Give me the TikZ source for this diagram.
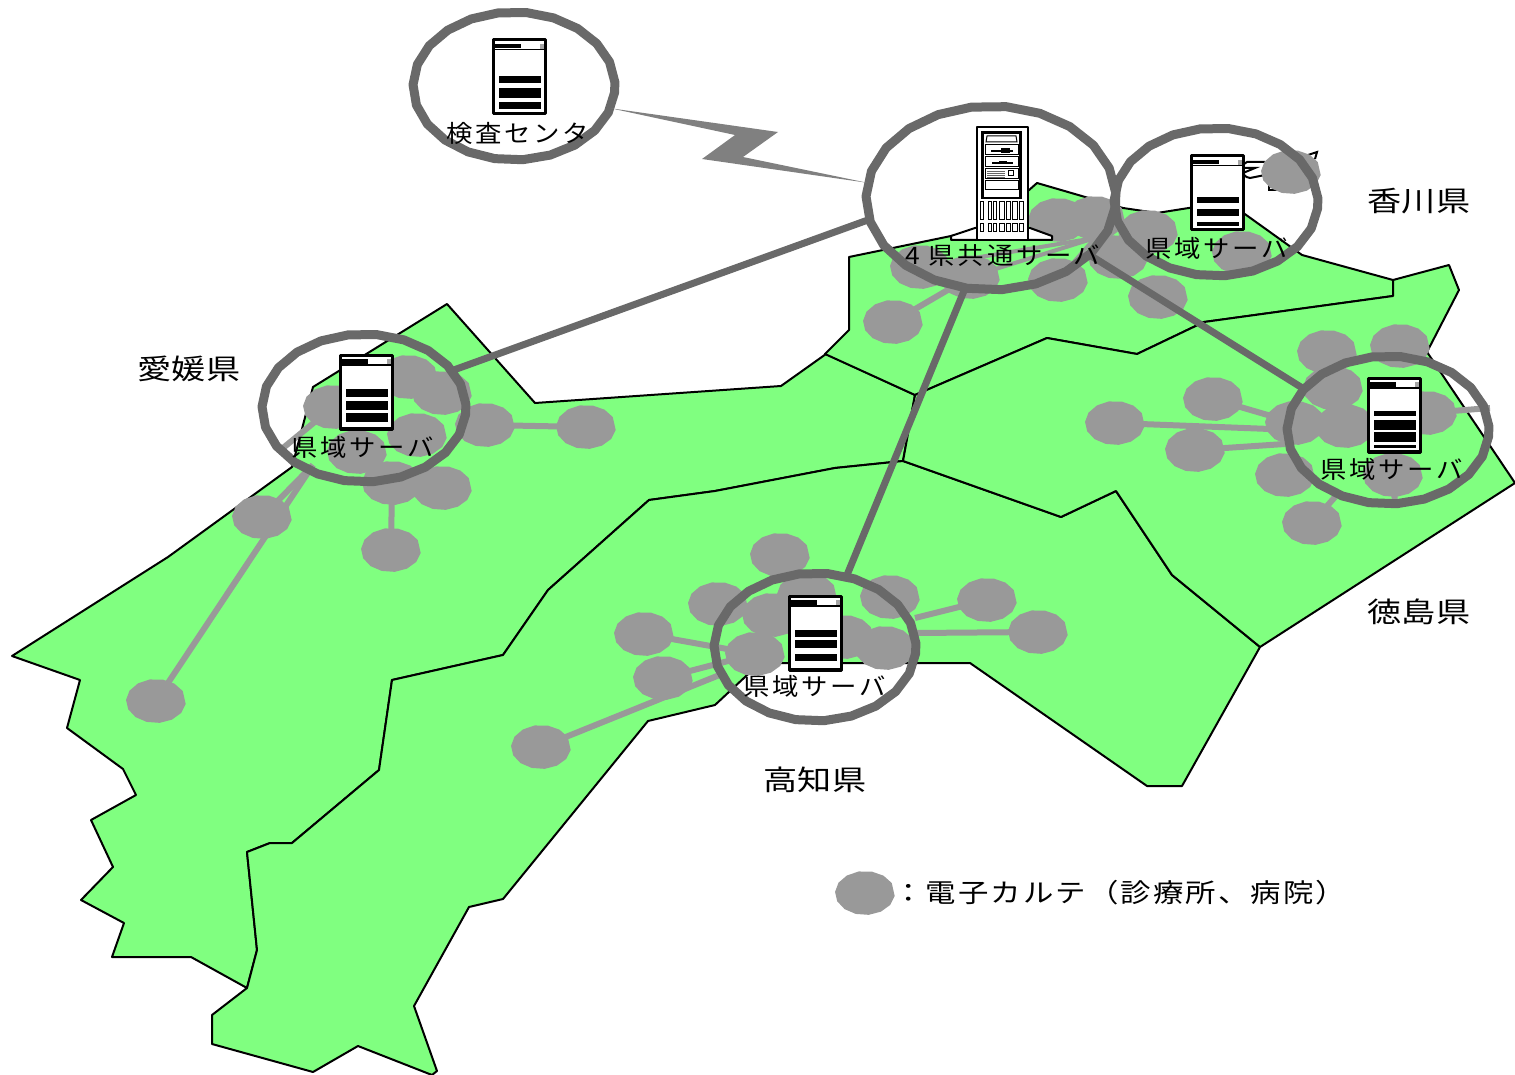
\documentclass[tikz,border=0pt]{standalone}
\usepackage{fontspec}
\usetikzlibrary{shapes.geometric}
\newfontfamily\jplabel[LetterSpace=11,FakeStretch=1.1]{Noto Sans CJK JP}
\newfontfamily\jppref[FakeStretch=1.22]{Noto Sans CJK JP}
\newfontfamily\jplegend[LetterSpace=8,FakeStretch=1.17]{Noto Sans CJK JP}
\definecolor{landgreen}{HTML}{80FF80}
\definecolor{blobgray}{HTML}{999999}
\definecolor{ringgray}{HTML}{696969}
\definecolor{boltgray}{HTML}{808080}
\tikzset{
  land/.style={fill=landgreen,draw=black,line width=2pt,line join=round},
  blobfill/.style={fill=blobgray},
  anchorblob/.style={ellipse,minimum width=60pt,minimum height=44pt,inner sep=0pt,outer sep=0pt},
  ringline/.style={draw=ringgray,line width=9pt,line join=round},
  anchorring/.style={ellipse,inner sep=0pt,outer sep=0pt},
  trunk/.style={draw=ringgray,line width=7pt},
  branch/.style={draw=blobgray,line width=6pt},
  twig/.style={draw=blobgray,line width=4pt},
  servertext/.style={font=\jplabel\fontsize{24}{24}\selectfont,inner sep=0pt},
  preftext/.style={font=\jppref\fontsize{28}{28}\selectfont,inner sep=0pt},
  legendtext/.style={font=\jplegend\fontsize{26}{26}\selectfont,inner sep=0pt,anchor=west},
  servercase/.style={fill=white,draw=black,line width=3pt,line join=round},
  hairline/.style={draw=black,line width=2pt},
}
\newcommand{\blobat}[2]{%
  \node[anchorblob] (#1) at (#2) {};
  \fill[blobfill,shift={(#2)}] plot[samples at={8,33,58,83,108,133,158,183,208,233,258,283,308,333},variable=\t] ({30*cos(\t)},{22*sin(\t)}) -- cycle;
}
\newcommand{\ringat}[4]{%
  \node[anchorring,minimum width=#3*2pt,minimum height=#4*2pt] (#1) at (#2) {};
  \path[ringline,shift={(#2)}] plot[samples at={5,21,37,53,69,85,101,117,133,149,165,181,197,213,229,245,261,277,293,309,325,341,357},variable=\t] ({#3*cos(\t)},{#4*sin(\t)}) -- cycle;
}
% name, top-left, bars as top/bottom pairs
\newcommand{\serverat}[3]{%
  \begin{scope}[shift={(#2)}]
    \node[inner sep=0pt,outer sep=0pt,minimum width=52pt,minimum height=74pt] (#1) at (26,37) {};
    \path[servercase] (0,0) rectangle (52,74);
    \fill[black] (0,72) rectangle (52,75);
    \fill[black] (1,4) rectangle (28,8.5);
    \fill[black] (0,9) rectangle (52,10.5);
    \fill[black!35] (47,4) rectangle (51,9);
    \foreach \a/\b in {#3} {\fill[black] (6,\a) rectangle (48,\b);}
  \end{scope}
}
\begin{document}
\begin{tikzpicture}[x=1pt,y=-1pt]
\useasboundingbox (0,0) rectangle (1515,1075);
% prefectures
\path[land] (447,304)--(535,403)--(781,386)--(826,354)--(915,395)--(903,461)--(835,468)--(715,491)--(649,500)--(548,590)--(503,655)--(392,680)--(379,770)--(292,843)--(270,843)--(247,852)--(257,950)--(247,988)--(191,957)--(112,957)--(124,923)--(81,900)--(113,867)--(91,820)--(136,795)--(123,769)--(67,728)--(80,680)--(12,656)--(168,557)--(292,467)--(313,387)--cycle;
\path[land] (903,461)--(1061,517)--(1116,491)--(1172,575)--(1260,647)--(1182,786)--(1147,786)--(970,663)--(760,663)--(715,705)--(648,721)--(503,899)--(469,907)--(414,1006)--(437,1071)--(432,1075)--(358,1046)--(313,1072)--(212,1044)--(212,1015)--(247,988)--(257,950)--(247,852)--(270,843)--(292,843)--(379,770)--(392,680)--(503,655)--(548,590)--(649,500)--(715,491)--(835,468)--cycle;
\path[land] (849,257)--(985,229)--(1037,183)--(1123,208)--(1157,213)--(1195,207)--(1242,212)--(1302,255)--(1393,280)--(1393,296)--(1204,322)--(1137,354)--(1047,338)--(915,395)--(825,354)--(849,330)--cycle;
\path[land] (1204,322)--(1393,296)--(1393,280)--(1449,265)--(1459,290)--(1427,352)--(1515,483)--(1260,647)--(1172,575)--(1116,491)--(1061,517)--(903,461)--(915,395)--(1047,338)--(1137,354)--cycle;
% cloud trace behind the Kagawa clinic
\draw[hairline] (1265,162) -- (1247,162) .. controls (1243,164) and (1243,166) .. (1243,168) -- (1255,168) -- (1243,173) .. controls (1245,177) and (1248,178) .. (1250,178) -- (1265,175);
\draw[hairline] (1269,183)--(1269,190)--(1279,190);
\draw[hairline] (1308,155)--(1317,152)--(1315,159);
% clinics: Ehime
\blobat{ea}{408,377}\blobat{eb}{442,393}\blobat{ec}{333,407}\blobat{ed}{417,435}
\blobat{ee}{485,425}\blobat{ef}{586,427}\blobat{eg}{357,452}\blobat{eh}{392,483}
\blobat{ei}{442,488}\blobat{ej}{391,550}\blobat{ek}{262,517}\blobat{el}{156,701}
% Tokushima
\blobat{ta}{1327,352}\blobat{tb}{1400,346}\blobat{tc}{1333,388}\blobat{td}{1213,399}
\blobat{te}{1115,423}\blobat{tf}{1195,450}\blobat{tg}{1295,423}\blobat{th}{1345,426}
\blobat{ti}{1427,413}\blobat{tj}{1285,475}\blobat{tk}{1393,475}\blobat{tl}{1312,523}
% Kochi
\blobat{ka}{780,555}\blobat{kb}{718,604}\blobat{kc}{772,615}\blobat{kd}{807,595}
\blobat{ke}{890,597}\blobat{kf}{987,600}\blobat{kg}{1038,632}\blobat{kh}{644,634}
\blobat{ki}{663,678}\blobat{kj}{755,654}\blobat{kk}{844,637}\blobat{kl}{885,648}
\blobat{km}{541,747}
% Kagawa
\blobat{ga}{1058,220}\blobat{gb}{1095,218}\blobat{gc}{1148,232}\blobat{gd}{1118,257}
\blobat{ge}{1242,253}\blobat{gf}{1291,172}\blobat{gg}{1158,297}\blobat{gh}{893,322}
\blobat{gi}{920,267}\blobat{gj}{1058,280}\blobat{gk}{970,277}
% legend blob
\blobat{legendblob}{865,893}
% free ends of the clinic links
\coordinate (efree) at (283,448);
\coordinate (ehub) at (313,465);
\coordinate (tfree) at (1490,408);
\coordinate (tlow) at (1395,505);
\coordinate (tlowb) at (1335,497);
\coordinate (tmida) at (1270,429);
\coordinate (tmidb) at (1285,444);
\coordinate (gfan) at (1095,238);
\coordinate (khub) at (722,674);
\coordinate (kright) at (915,618);
\coordinate (krightb) at (915,633);
% clinic links
\draw[branch] (ec.center)--(efree);
\draw[branch] (ek.center)--(ehub);
\draw[branch] (el.center)--(ehub);
\draw[branch] (ee.center)--(ef.center);
\draw[branch] (eh.center)--(ej.center);
\draw[branch] (eg.center)--(eh.center);
\draw[branch] (td.center)--(tg.center);
\draw[branch] (te.center)--(tmida);
\draw[branch] (tf.center)--(tmidb);
\draw[branch] (ti.center)--(tfree);
\draw[branch] (tk.center)--(tlow);
\draw[branch] (tl.center)--(tlowb);
\draw[branch] (kh.center)--(kj.center);
\draw[branch] (ki.center)--(kj.center);
\draw[branch] (km.center)--(khub);
\draw[branch] (kf.center)--(kright);
\draw[branch] (kg.center)--(krightb);
\draw[branch] (gh.center)--(gk.center);
\draw[twig] (gk.center)--(gfan);
\draw[twig] (gj.center)--(gfan);
\draw[twig] (gi.center)--(gfan);
% rings
\ringat{labring}{514,86}{101}{74}
\ringat{hubring}{991,198}{125}{92}
\ringat{kagawaring}{1216,202}{102}{74}
\ringat{ehimering}{364,408}{102}{74}
\ringat{tokushimaring}{1388,430}{101}{74}
\ringat{kochiring}{815,647}{101}{74}
% trunk lines
\draw[trunk] (hubring.190)--(ehimering.23);
\draw[trunk] (hubring.254)--(kochiring.66);
\draw[trunk] (hubring.330)--(tokushimaring.154);
% radio link
\fill[boltgray] (labring.-13)--(778,132)--(743,157)--(hubring.173)--(702,159)--(735,135)--cycle;
% servers
\serverat{labserver}{493,40}{36/43,48/58,62/69}
\serverat{ehimeserver}{340,355}{34/42,46/55,58/67}
\serverat{kagawaserver}{1191,156}{41/47,53/60,66/70}
\serverat{tokushimaserver}{1368,378}{33/38,42/52,54/64,67/70}
\serverat{kochiserver}{789,596}{34/41,44/52,58/65}
% tower server
\begin{scope}[shift={(977,127)}]
  \path[fill=white,draw=black,line width=2pt,line join=round] (-26,113)--(-26,109)--(-2,101)--(53,101)--(75,109)--(75,113)--cycle;
  \node[inner sep=0pt,outer sep=0pt,minimum width=51pt,minimum height=113pt] (towerserver) at (25.5,56.5) {};
  \path[servercase,line width=2.4pt] (0,0) rectangle (51,113);
  \path[fill=white,draw=black,line width=2.8pt] (5.5,5.5) rectangle (43.5,71);
  \path[draw=black,line width=1pt] (9,15)--(10,9)--(39,9)--(40,15)--cycle;
  \path[draw=black,line width=1pt] (8,18) rectangle (41,28);
  \fill[black] (14,23) rectangle (36,25);
  \fill[black] (24,21.5) rectangle (33,26);
  \path[draw=black,line width=1pt] (8,30) rectangle (41,40);
  \fill[black] (15,35) rectangle (36,37);
  \fill[black] (22,34) rectangle (30,37);
  \path[draw=black,line width=1pt] (8,42) rectangle (41,52);
  \foreach \y in {44,46,48,50} {\draw[black!60,line width=.7pt] (10,\y)--(28,\y);}
  \path[draw=black,line width=1pt] (31,44) rectangle (36,49);
  \path[draw=black,line width=1pt] (8,54) rectangle (41,63);
  \foreach \a/\b in {3/6,11/14,16/19,22/27,29/33,35/40,42/46} {
    \draw[black,line width=1pt] (\a,75) rectangle (\b,93);
    \draw[black,line width=1pt] (\a,97) rectangle (\b,105);
  }
\end{scope}
% labels
\node[servertext] (lablabel) at (518,133) {検査センタ};
\node[servertext] (hublabel) at (1003,256) {4 県共通サーバ};
\node[servertext] (kagawalabel) at (1217,248) {県域サーバ};
\node[servertext] (ehimelabel) at (363,447) {県域サーバ};
\node[servertext] (tokushimalabel) at (1392,469) {県域サーバ};
\node[servertext] (kochilabel) at (815,686) {県域サーバ};
\node[preftext] (kagawaname) at (1419,201) {香川県};
\node[preftext] (ehimename) at (189,369) {愛媛県};
\node[preftext] (tokushimaname) at (1419,612) {徳島県};
\node[preftext] (kochiname) at (815,780) {高知県};
\node[legendtext] (legendlabel) at (893,893) {：電子カルテ（診療所、病院）};
\end{tikzpicture}
\end{document}
